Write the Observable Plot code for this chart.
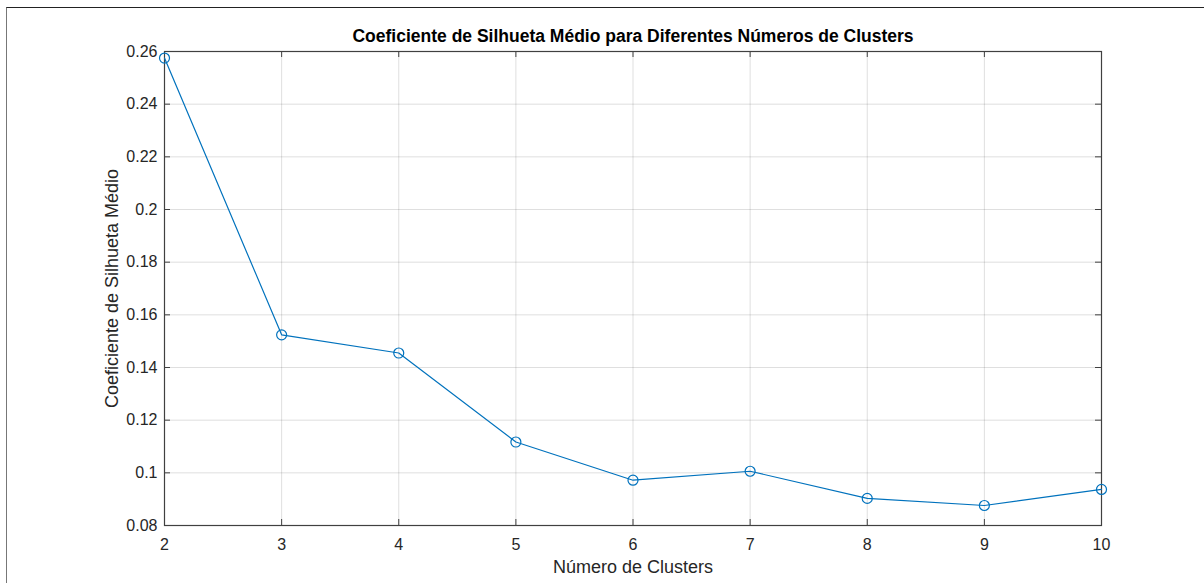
<!DOCTYPE html>
<html>
<head>
<meta charset="utf-8">
<script src="https://cdn.jsdelivr.net/npm/d3@7"></script>
<script src="https://cdn.jsdelivr.net/npm/@observablehq/plot@0.6"></script>
<style>
  html, body { margin: 0; padding: 0; background: #fff; }
  #wrap { position: relative; width: 1204px; height: 583px; overflow: hidden; }
  #border { position: absolute; left: 6px; top: 7px; right: -4px; bottom: -4px;
            border-top: 1.5px solid #222; border-left: 1.5px solid #777; pointer-events: none; }
  #chart { position: absolute; left: 0; top: 0; }
</style>
</head>
<body>
<div id="wrap"><div id="chart"></div><div id="border"></div></div>
<script>
const clusters = [2, 3, 4, 5, 6, 7, 8, 9, 10];
const silhouette = [0.2575, 0.1524, 0.1455, 0.1117, 0.0972, 0.1006, 0.0903, 0.0876, 0.0937];
const xTicks = [2, 3, 4, 5, 6, 7, 8, 9, 10];
const xTickLabels = ["2", "3", "4", "5", "6", "7", "8", "9", "10"];
const yTicks = [0.08, 0.10, 0.12, 0.14, 0.16, 0.18, 0.20, 0.22, 0.24, 0.26];
const yTickLabels = ["0.08", "0.1", "0.12", "0.14", "0.16", "0.18", "0.2", "0.22", "0.24", "0.26"];
const title = "Coeficiente de Silhueta Médio para Diferentes Números de Clusters";
const xLabel = "Número de Clusters";
const yLabel = "Coeficiente de Silhueta Médio";

const data = clusters.map((k, i) => ({k, s: silhouette[i]}));

const W = 1204, H = 583;
const mL = 164, mR = 103, mT = 51, mB = 58;
const plotW = W - mL - mR, plotH = H - mT - mB;
const axisColor = "#404040";
const lineColor = "#0072BD";
const font = "'Liberation Sans', Arial, Helvetica, sans-serif";

const chart = Plot.plot({
  width: W, height: H,
  marginLeft: mL, marginRight: mR, marginTop: mT, marginBottom: mB,
  style: {fontFamily: font, fontSize: "16px", color: "#262626", background: "transparent"},
  x: {domain: [2, 10], ticks: xTicks},
  y: {domain: [0.08, 0.26], ticks: yTicks},
  marks: [
    Plot.gridX(xTicks, {stroke: "#262626", strokeOpacity: 0.15}),
    Plot.gridY(yTicks, {stroke: "#262626", strokeOpacity: 0.15}),
    // inward ticks (MATLAB style, box on)
    Plot.tickX(xTicks, {x: d => d, insetTop: plotH - 6, stroke: axisColor}),
    Plot.tickX(xTicks, {x: d => d, insetBottom: plotH - 6, stroke: axisColor}),
    Plot.tickY(yTicks, {y: d => d, insetRight: plotW - 6, stroke: axisColor}),
    Plot.tickY(yTicks, {y: d => d, insetLeft: plotW - 6, stroke: axisColor}),
    Plot.axisX(xTicks, {tickSize: 0, tickPadding: 13, label: null, fill: "#262626", fontSize: 16,
      tickFormat: d => xTickLabels[xTicks.indexOf(d)]}),
    Plot.axisY(yTicks, {tickSize: 0, tickPadding: 7, label: null, fill: "#262626", fontSize: 16,
      tickFormat: d => yTickLabels[yTicks.indexOf(d)]}),
    Plot.frame({stroke: axisColor, strokeWidth: 1.2}),
    Plot.line(data, {x: "k", y: "s", stroke: lineColor, strokeWidth: 1.2}),
    Plot.dot(data, {x: "k", y: "s", r: 5, stroke: lineColor, strokeWidth: 1.2, fill: "none"}),
    Plot.text([title], {frameAnchor: "top", dy: -15, textAnchor: "middle", lineAnchor: "middle",
      fontWeight: "bold", fontSize: 17.5, fill: "#000"}),
    Plot.text([xLabel], {frameAnchor: "bottom", dy: 42, textAnchor: "middle", lineAnchor: "middle",
      fontSize: 18, fill: "#262626"}),
    Plot.text([yLabel], {frameAnchor: "left", dx: -52, rotate: -90, textAnchor: "middle", lineAnchor: "middle",
      fontSize: 18, fill: "#262626"})
  ]
});
document.getElementById("chart").appendChild(chart);
</script>
</body>
</html>
